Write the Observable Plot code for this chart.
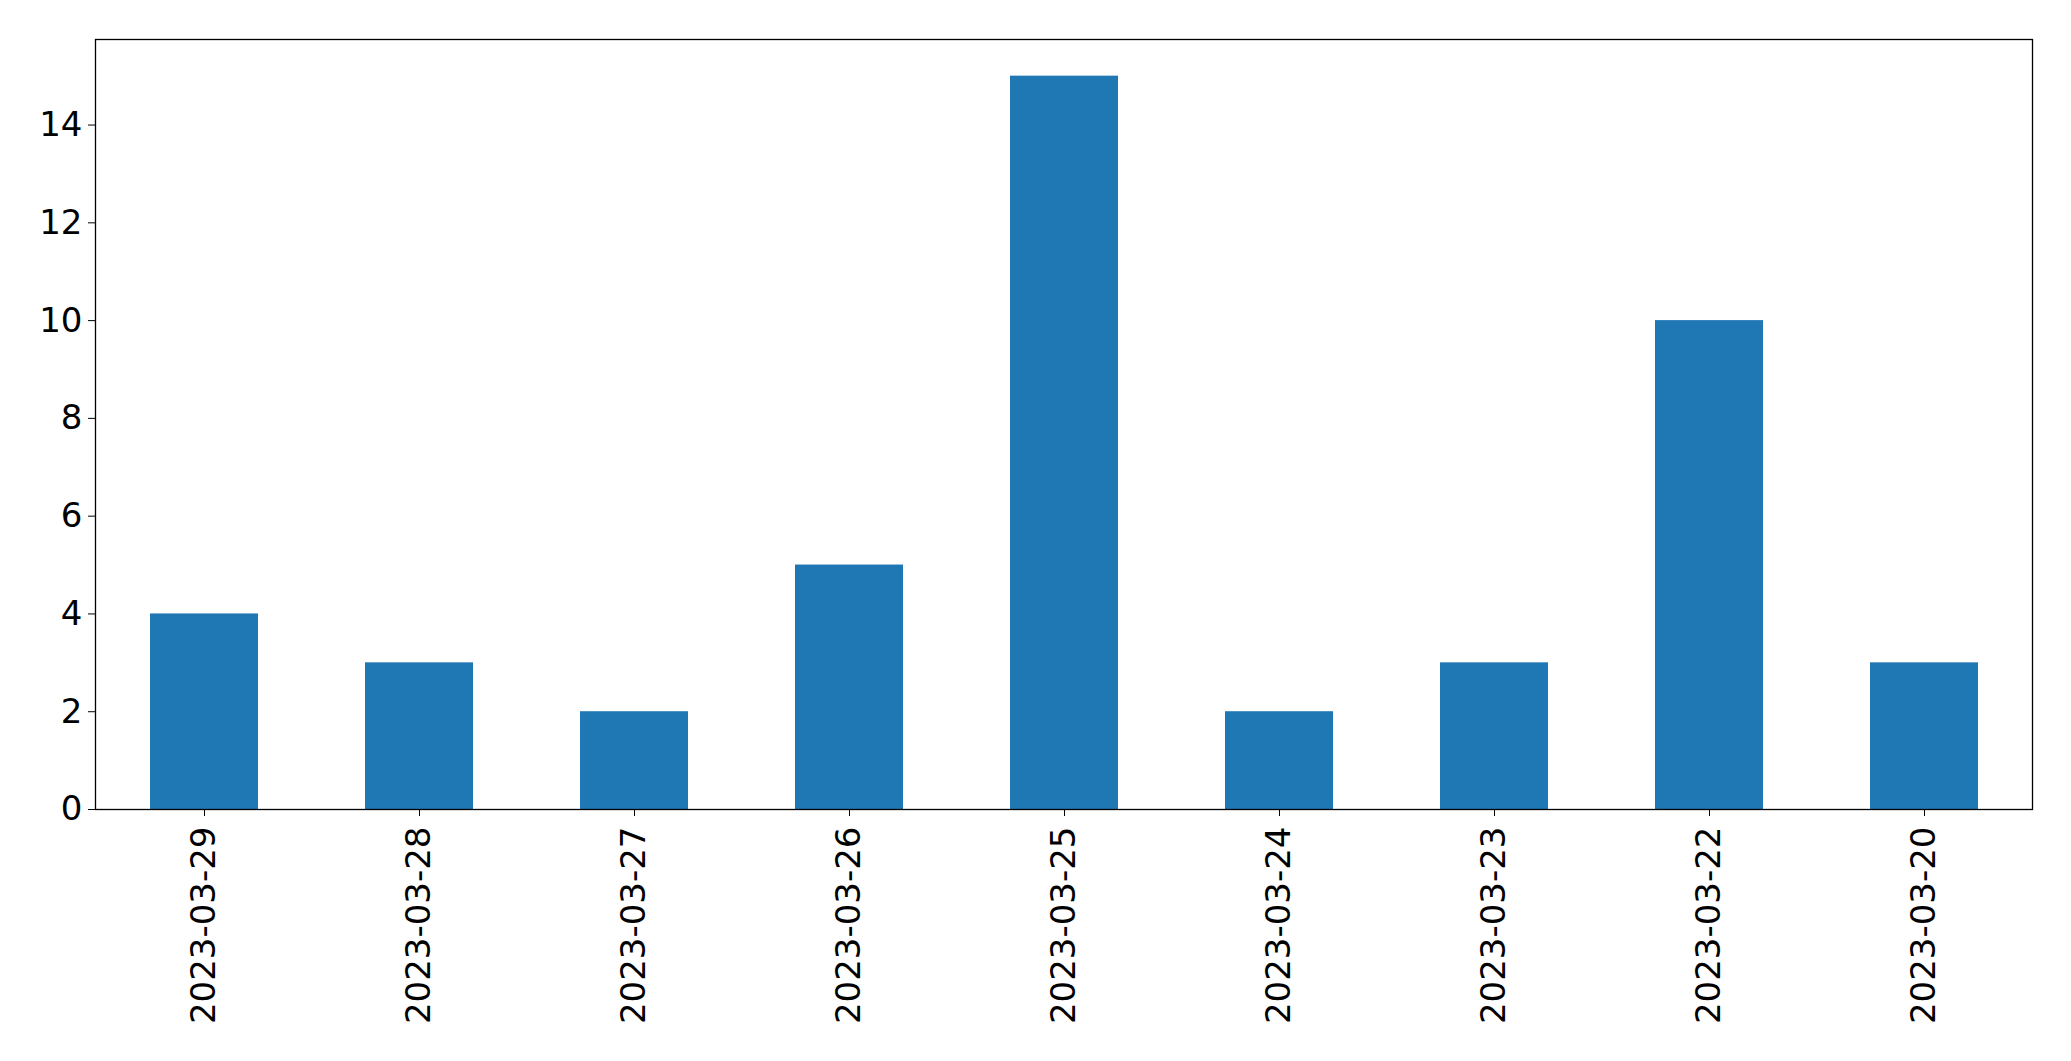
<!DOCTYPE html>
<html>
<head>
<meta charset="utf-8">
<script src="https://cdn.jsdelivr.net/npm/d3@7"></script>
<script src="https://cdn.jsdelivr.net/npm/@observablehq/plot@0.6"></script>
<style>
  html, body { margin: 0; padding: 0; background: #fff; }
  svg { display: block; }
</style>
</head>
<body>
<div id="chart"></div>
<script>
const dates = ["2023-03-29", "2023-03-28", "2023-03-27", "2023-03-26", "2023-03-25", "2023-03-24", "2023-03-23", "2023-03-22", "2023-03-20"];
const counts = [4, 3, 2, 5, 15, 2, 3, 10, 3];
const yTicks = [0, 2, 4, 6, 8, 10, 12, 14];

const data = dates.map((d, i) => ({date: d, count: counts[i]}));

const chart = Plot.plot({
  width: 2071,
  height: 1061,
  marginLeft: 95,
  marginRight: 39,
  marginTop: 39,
  marginBottom: 252,
  style: {fontFamily: "DejaVu Sans", fontSize: "34px", color: "#000", background: "#fff"},
  x: {type: "band", domain: dates, paddingInner: 0.5, paddingOuter: 0.25},
  y: {domain: [0, 15.75]},
  marks: [
    Plot.barY(data, {x: "date", y: "count", fill: "#1f77b4"}),
    Plot.axisX({tickRotate: -90, tickSize: 7, tickPadding: 10, fontSize: 34, label: null, stroke: "#000"}),
    Plot.axisY({ticks: yTicks, tickFormat: d3.format("d"), tickSize: 7, tickPadding: 6, fontSize: 34, label: null, stroke: "#000"}),
    Plot.frame({stroke: "#000", strokeWidth: 1.3})
  ]
});
document.getElementById("chart").appendChild(chart);
</script>
</body>
</html>
